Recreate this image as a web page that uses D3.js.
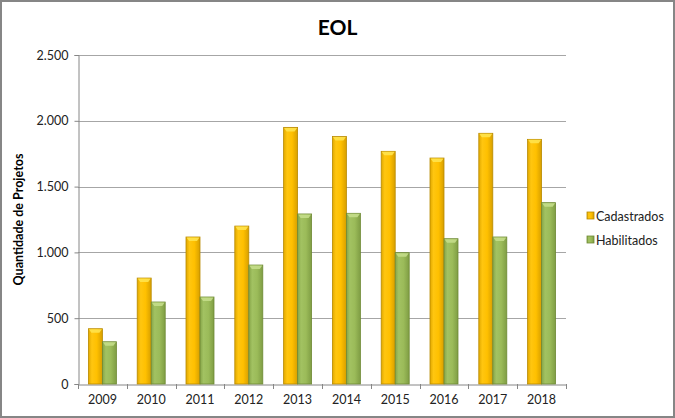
<!DOCTYPE html>
<html><head><meta charset="utf-8">
<script src="https://cdn.jsdelivr.net/npm/d3@7"></script>
<style>html,body{margin:0;padding:0;background:#fff;}svg{display:block;font-family:Lato,"Open Sans",sans-serif;}</style>
</head><body>
<svg id="c" width="675" height="418"></svg>
<script>
const years = ["2009","2010","2011","2012","2013","2014","2015","2016","2017","2018"];
const cadastrados = [420, 805, 1117, 1200, 1950, 1880, 1768, 1717, 1905, 1859];
const habilitados = [321, 623, 661, 904, 1292, 1297, 998, 1104, 1117, 1378];
const yTicks = [0, 500, 1000, 1500, 2000, 2500];
const seriesNames = ["Cadastrados", "Habilitados"];

const svg = d3.select("#c");
const W = 675, H = 418;
const m = {left: 78, right: 110, top: 55, bottom: 34};
const x = d3.scaleBand().domain(years).range([m.left, W - m.right + 1]).paddingInner(0).paddingOuter(0);
const y = d3.scaleLinear().domain([0, 2500]).range([H - m.bottom, m.top]);

const defs = svg.append("defs");
function grad(id, stops) {
  const g = defs.append("linearGradient").attr("id", id).attr("x1", "0").attr("x2", "1").attr("y1", "0").attr("y2", "0");
  stops.forEach(s => g.append("stop").attr("offset", s[0]).attr("stop-color", s[1]));
}
grad("gCad", [[0, "#e0a800"], [0.25, "#ffc610"], [0.6, "#ffc000"], [1, "#d79f00"]]);
grad("gHab", [[0, "#86a548"], [0.25, "#a2c262"], [0.6, "#9bbb59"], [1, "#7f9d44"]]);

// outer border
svg.append("rect").attr("x", 1).attr("y", 1).attr("width", W - 2).attr("height", H - 2)
  .attr("fill", "#fff").attr("stroke", "#868686").attr("stroke-width", 2);

// title
svg.append("text").attr("x", W / 2).attr("y", 35).attr("text-anchor", "middle")
  .attr("font-size", 21).attr("font-weight", "bold").attr("fill", "#000").text("EOL");

// gridlines
svg.append("g").selectAll("line").data(yTicks.filter(d => d > 0)).join("line")
  .attr("x1", m.left).attr("x2", W - m.right + 1)
  .attr("y1", d => Math.round(y(d)) + 0.5).attr("y2", d => Math.round(y(d)) + 0.5)
  .attr("stroke", "#a6a6a6").attr("stroke-width", 1);

// y axis
const ya = svg.append("g").attr("transform", `translate(${m.left + 0.5},0)`)
  .call(d3.axisLeft(y).tickValues(yTicks).tickSize(4).tickPadding(6)
    .tickFormat(d => d3.format(",")(d).replace(/,/g, ".")));
ya.select(".domain").attr("stroke", "#868686");
ya.selectAll(".tick line").attr("stroke", "#868686");
ya.selectAll("text").attr("font-size", 12.5).attr("fill", "#222").attr("font-family", "Lato,sans-serif");

// x axis
const xa = svg.append("g").attr("transform", `translate(0,${Math.round(y(0)) + 0.5})`)
  .call(d3.axisBottom(x).tickSize(0).tickPadding(11));
xa.select(".domain").attr("stroke", "#868686");
xa.selectAll("text").attr("font-size", 12.5).attr("fill", "#222").attr("font-family", "Lato,sans-serif");
// category boundary ticks
svg.append("g").selectAll("line").data(years.concat(["end"])).join("line")
  .attr("x1", (d, i) => Math.round(m.left + i * x.step()) + 0.5)
  .attr("x2", (d, i) => Math.round(m.left + i * x.step()) + 0.5)
  .attr("y1", y(0)).attr("y2", y(0) + 5).attr("stroke", "#868686");

// y title
svg.append("text").attr("transform", `translate(23,${(m.top + H - m.bottom) / 2}) rotate(-90)`)
  .attr("text-anchor", "middle").attr("font-size", 12.5).attr("font-weight", "bold").text("Quantidade de Projetos");

// bars
const bw = 14;
const data = [cadastrados, habilitados];
const fills = ["url(#gCad)", "url(#gHab)"];
const strokes = ["#b88a00", "#6f8a35"];
const caps = ["#ffe34d", "#c4dd8a"];
data.forEach((vals, s) => {
  const g = svg.append("g");
  g.selectAll("rect").data(vals).join("rect")
    .attr("x", (d, i) => x(years[i]) + x.bandwidth() / 2 - bw + s * bw)
    .attr("y", d => y(d))
    .attr("width", bw).attr("height", d => y(0) - y(d))
    .attr("fill", fills[s]).attr("stroke", strokes[s]).attr("stroke-width", 0.8);
  g.selectAll("path").data(vals).join("path")
    .attr("d", (d, i) => {
      const x0 = x(years[i]) + x.bandwidth() / 2 - bw + s * bw, y0 = y(d);
      return `M${x0 + 0.5},${y0 + 0.5} L${x0 + bw - 0.5},${y0 + 0.5} L${x0 + bw - 3},${y0 + 4} L${x0 + 3},${y0 + 4} Z`;
    })
    .attr("fill", caps[s]).attr("opacity", 0.9);
});

// legend
const lg = svg.append("g");
seriesNames.forEach((n, i) => {
  const ly = 216 + i * 24;
  lg.append("rect").attr("x", 587).attr("y", ly - 4).attr("width", 7).attr("height", 7)
    .attr("fill", fills[i]).attr("stroke", strokes[i]).attr("stroke-width", 0.8);
  lg.append("text").attr("x", 596).attr("y", ly + 4.5).attr("font-size", 12.5).attr("fill", "#222").text(n);
});
</script>
</body></html>
